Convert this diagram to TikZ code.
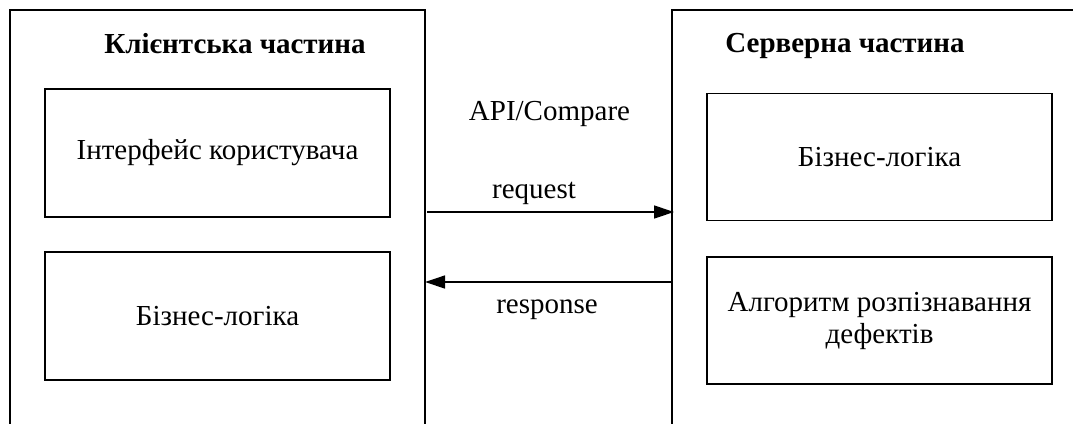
\documentclass[tikz,border=0pt]{standalone}
\usepackage{fontspec}
\setmainfont{Liberation Serif}
\usetikzlibrary{arrows.meta}
\tikzset{
  frame/.style={line width=1.3pt, line cap=rect},
  block/.style={draw, line width=1.4pt, minimum width=345pt, minimum height=127pt,
    align=center, inner sep=0pt, font=\fontsize{29}{31}\selectfont},
  title/.style={anchor=base, inner sep=0pt, font=\fontsize{29}{31}\selectfont\bfseries},
  lbl/.style={anchor=base, inner sep=0pt, font=\fontsize{29}{31}\selectfont},
  flow/.style={line width=1.3pt, -{Triangle[length=20pt,width=13pt]}}
}
\begin{document}
\begin{tikzpicture}[x=1pt,y=-1pt]
\useasboundingbox (0,0) rectangle (1073,423);
% outer frames
\coordinate (lbl) at (10,424);
\coordinate (ltl) at (10,10);
\coordinate (ltr) at (425,10);
\coordinate (lbr) at (425,424);
\draw[frame] (lbl) -- (ltl) -- (ltr) -- (lbr);
\coordinate (rbl) at (672,424);
\coordinate (rtl) at (672,10);
\coordinate (rtr) at (1074,10);
\draw[frame] (rbl) -- (rtl) -- (rtr);
% titles
\node[title] (tclient) at (235,53) {Клієнтська частина};
\node[title] (tserver) at (845,52) {Серверна частина};
% blocks
\node[block, minimum height=128pt] (ui) at (217.5,153) {Інтерфейс користувача};
\node[block, minimum height=128pt] (cbl) at (217.5,316) {Бізнес-логіка};
\node[block] (sbl) at (879.5,157) {Бізнес-логіка};
\node[block] (alg) at (879.5,320.5) {Алгоритм розпізнавання\\[1pt]дефектів};
% connectors
\coordinate (reqs) at (427,212);
\coordinate (reqe) at (674,212);
\coordinate (ress) at (672,282);
\coordinate (rese) at (425,282);
\draw[flow] (reqs) -- (reqe);
\draw[flow] (ress) -- (rese);
% labels
\node[lbl] (api) at (549.5,120.5) {API/Compare};
\node[lbl] (req) at (534,198) {request};
\node[lbl] (res) at (547,313) {response};
\end{tikzpicture}
\end{document}
